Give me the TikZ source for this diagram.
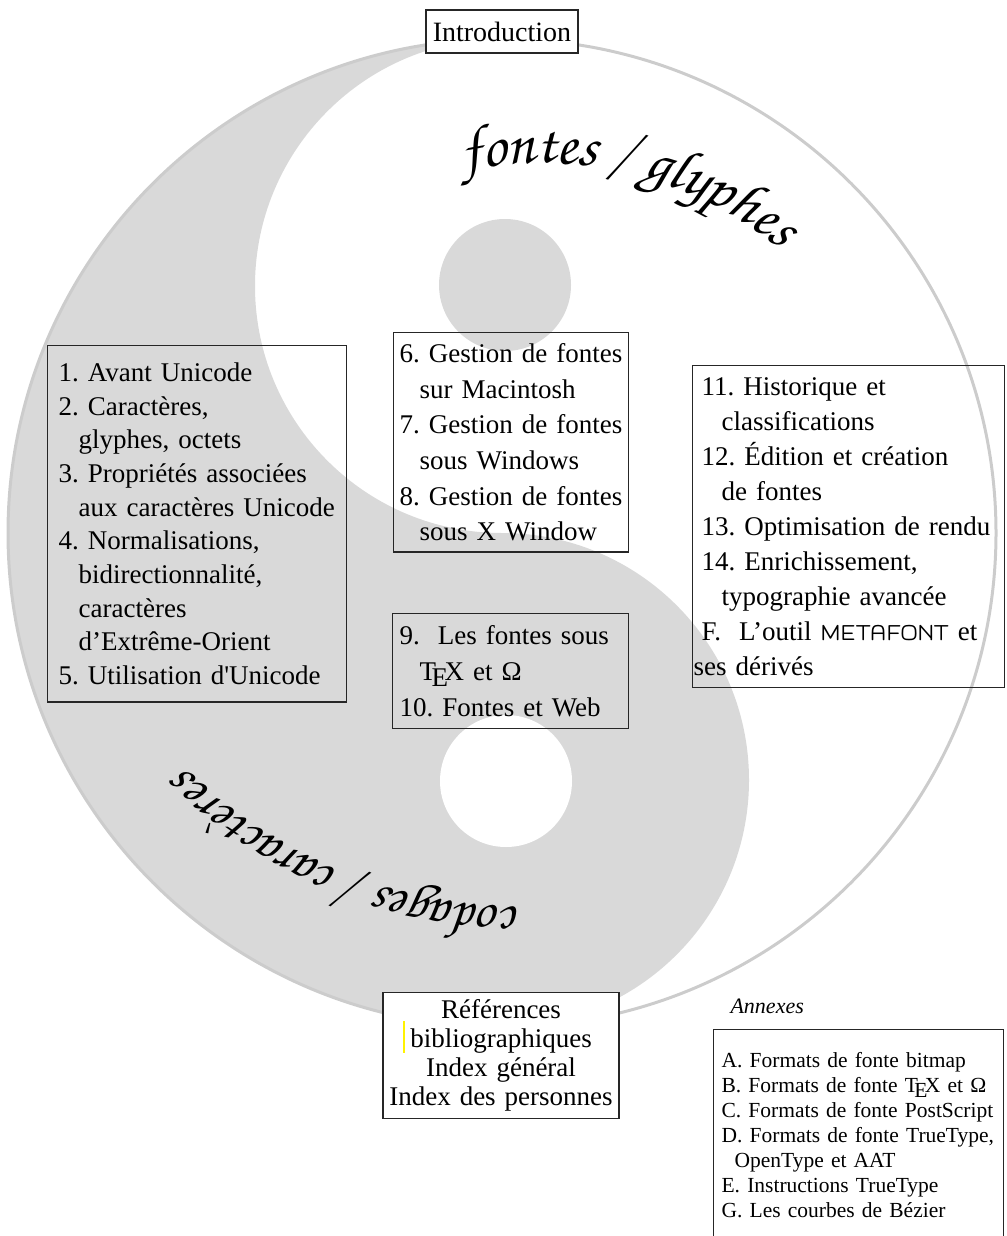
\documentclass[tikz,border=0pt]{standalone}
\usepackage[T1]{fontenc}
\usepackage{fontspec}
\setmainfont{Liberation Serif}
\usepackage{mflogo}
\usetikzlibrary{decorations.text}
\definecolor{yinfill}{gray}{0.85}
\definecolor{ringcol}{gray}{0.8}
\newcommand{\chancery}{\fontencoding{T1}\fontfamily{pzc}\fontseries{mb}\fontshape{it}\selectfont}
\newcommand{\chapind}{\hspace*{20pt}}
\newcommand{\chapfont}[1]{\fontsize{27}{#1}\selectfont}
\frenchspacing

\begin{document}
\begin{tikzpicture}[x=1pt,y=-1pt,
  box/.style={draw=black!85,line width=1.2pt,anchor=north west,align=left,inner xsep=10pt},
  yin/.style={fill=yinfill},
  ring/.style={draw=ringcol,line width=3pt},
  curved/.style={decorate,decoration={text along path,text align=center,text={#1}}}]
  \useasboundingbox (0,0) rectangle (1006,1236);
  \clip (0,0) rectangle (1006,1236);
  \fill[yin] (502,39) arc[start angle=270,end angle=90,radius=494]
    arc[start angle=90,end angle=-90,radius=247]
    arc[start angle=90,end angle=270,radius=247] -- cycle;
  \fill[yin] (505,285) circle[radius=66];
  \fill[white] (506,781) circle[radius=66];
  \draw[ring] (502,533) circle[radius=494];
  \coordinate (fg) at (540,541);
  \coordinate (cc) at (521,434);
  \path[curved={|\fontsize{61}{61}\chancery|fontes / glyphes}] ([shift={(234:378)}]fg) arc[start angle=234,end angle=334,radius=378];
  \path[curved={|\fontsize{54}{54}\chancery|codages / caractères}] ([shift={(70:473)}]cc) arc[start angle=70,end angle=155,radius=473];
  \node[box,anchor=center,fill=white,minimum width=152pt,minimum height=43pt,inner sep=0pt,font=\fontsize{28}{30}\selectfont] (intro) at (502,31.5) {Introduction};
  \node[box,font=\chapfont{33.7},text width=277pt,inner xsep=11pt,inner ysep=17pt] (codes) at (47,345) {1. Avant Unicode\\2. Caractères,\\\chapind glyphes, octets\\3. Propriétés associées\\\chapind aux caractères Unicode\\4. Normalisations,\\\chapind bidirectionnalité,\\\chapind caractères\\\chapind d’Extrême-Orient\\5. Utilisation d\textquotesingle Unicode};
  \node[box,font=\chapfont{35.6},text width=223pt,inner xsep=6pt,inner ysep=11pt] (systems) at (393,332) {6. Gestion de fontes\\\chapind sur Macintosh\\7. Gestion de fontes\\\chapind sous Windows\\8. Gestion de fontes\\\chapind sous X Window};
  \node[box,font=\chapfont{35.8},text width=222pt,inner xsep=7pt,inner ysep=12pt] (texweb) at (392,613) {9.\ \ Les fontes sous\\\chapind\TeX{} et Ω\\10. Fontes et Web};
  \node[box,font=\chapfont{35},text width=294pt,inner xsep=9pt,inner ysep=12pt] (glyphs) at (692,365) {11. Historique et\\\chapind classifications\\12. Édition et création\\\chapind de fontes\\13. Optimisation de rendu\\14. Enrichissement,\\\chapind typographie avancée\\F.\ \ L’outil \MF{} et\\\hspace*{-8pt}ses dérivés};
  \node[box,anchor=north,align=center,fill=white,font=\chapfont{29},text width=226pt,inner xsep=5pt,inner ysep=7pt] (refs) at (501,992) {Références\\bibliographiques\\Index général\\Index des personnes};
  \draw[yellow,line width=1.5pt] (404,1021) -- (404,1053);
  \node[anchor=base west,font=\fontsize{22}{24}\itshape] (annexlabel) at (727,1013) {Annexes};
  \node[box,font=\fontsize{21.5}{25}\selectfont,text width=274pt,inner xsep=8pt,inner ysep=23pt] (annexes) at (713,1029) {A. Formats de fonte bitmap\\B. Formats de fonte \TeX{} et Ω\\C. Formats de fonte PostScript\\D. Formats de fonte TrueType,\\\hspace*{13pt}OpenType et AAT\\E. Instructions TrueType\\G. Les courbes de Bézier};
\end{tikzpicture}
\end{document}
